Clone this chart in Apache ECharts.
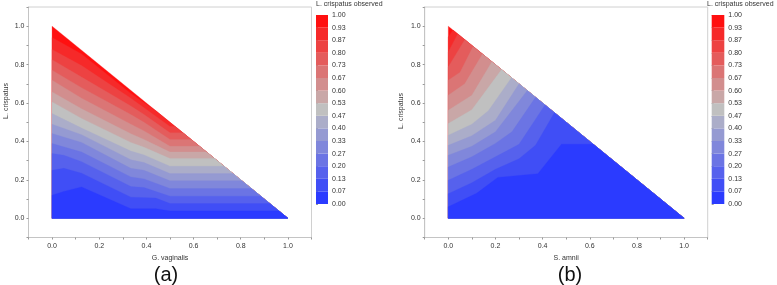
<!DOCTYPE html>
<html>
<head>
<meta charset="utf-8">
<title>L. crispatus observed</title>
<style>html,body{margin:0;padding:0;background:#fff;}</style>
</head>
<body>
<div id="main" style="width:777px;height:285px;"></div>
<script src="https://cdn.jsdelivr.net/npm/echarts@6/dist/echarts.min.js"></script>
<script>
// contour lines, level k/15 for k = 1..14 (first = lowest)
// each line runs from the left edge (x = 0) to the hypotenuse (x + y = 1)
var gvLines = [
    [[0, 0.120], [0.05, 0.140], [0.125, 0.163], [0.334, 0.050], [0.44, 0.050], [0.5, 0.038], [0.962, 0.038]],
    [[0, 0.250], [0.05, 0.260], [0.125, 0.235], [0.334, 0.110], [0.44, 0.105], [0.5, 0.077], [0.923, 0.077]],
    [[0, 0.337], [0.05, 0.328], [0.125, 0.295], [0.334, 0.165], [0.39, 0.160], [0.5, 0.115], [0.885, 0.115]],
    [[0, 0.389], [0.125, 0.345], [0.334, 0.215], [0.39, 0.205], [0.5, 0.155], [0.845, 0.155]],
    [[0, 0.441], [0.125, 0.395], [0.334, 0.260], [0.39, 0.250], [0.5, 0.195], [0.805, 0.195]],
    [[0, 0.490], [0.125, 0.435], [0.334, 0.305], [0.39, 0.290], [0.5, 0.233], [0.767, 0.233]],
    [[0, 0.545], [0.125, 0.470], [0.334, 0.350], [0.39, 0.330], [0.5, 0.271], [0.729, 0.271]],
    [[0, 0.606], [0.125, 0.520], [0.334, 0.395], [0.39, 0.370], [0.5, 0.311], [0.689, 0.311]],
    [[0, 0.658], [0.125, 0.570], [0.334, 0.440], [0.39, 0.410], [0.5, 0.345], [0.655, 0.345]],
    [[0, 0.719], [0.125, 0.625], [0.334, 0.490], [0.39, 0.455], [0.5, 0.375], [0.625, 0.375]],
    [[0, 0.771], [0.125, 0.680], [0.334, 0.540], [0.39, 0.500], [0.5, 0.410], [0.590, 0.410]],
    [[0, 0.826], [0.125, 0.735], [0.334, 0.585], [0.39, 0.540], [0.5, 0.445], [0.555, 0.445]],
    [[0, 0.879], [0.125, 0.795], [0.334, 0.625], [0.39, 0.575], [0.5, 0.478], [0.522, 0.478]],
    [[0, 0.941], [0.125, 0.855], [0.334, 0.650], [0.44, 0.560]]
];

var saLines = [
    [[0, 0.060], [0.12, 0.130], [0.21, 0.213], [0.38, 0.232], [0.48, 0.386], [0.614, 0.386]],
    [[0, 0.128], [0.1, 0.185], [0.2, 0.255], [0.3, 0.310], [0.37, 0.380], [0.45, 0.550]],
    [[0, 0.198], [0.1, 0.255], [0.2, 0.320], [0.3, 0.385], [0.41, 0.590]],
    [[0, 0.267], [0.1, 0.320], [0.2, 0.390], [0.27, 0.450], [0.37, 0.630]],
    [[0, 0.328], [0.1, 0.375], [0.2, 0.450], [0.335, 0.665]],
    [[0, 0.380], [0.1, 0.430], [0.2, 0.510], [0.30, 0.700]],
    [[0, 0.432], [0.1, 0.490], [0.17, 0.560], [0.268, 0.732]],
    [[0, 0.493], [0.1, 0.565], [0.226, 0.774]],
    [[0, 0.5625], [0.1, 0.640], [0.185, 0.815]],
    [[0, 0.641], [0.07, 0.700], [0.145, 0.855]],
    [[0, 0.719], [0.05, 0.760], [0.105, 0.895]],
    [[0, 0.788], [0.07, 0.930]],
    [[0, 0.866], [0.04, 0.960]],
    [[0, 0.944], [0.02, 0.980]]
];

var levelLabels = ['0.00', '0.07', '0.13', '0.20', '0.27', '0.33', '0.40', '0.47',
    '0.53', '0.60', '0.67', '0.73', '0.80', '0.87', '0.93', '1.00'];
var axisLabels = ['0.0', '0.2', '0.4', '0.6', '0.8', '1.0'];

// one colour per band, lowest band first
var bandColors = ['#2b3bff', '#404ef6', '#5661ed', '#6b74e4', '#8087db', '#959ad2', '#abadc9',
    '#c0c0c0', '#c9a7a7', '#d28e8e', '#db7575', '#e45c5c', '#ed4242', '#f62929', '#ff1010'];

var FONT = 'Liberation Sans';

// painter's order: whole triangle in the top colour, then the area under each line
function buildLayers(lines) {
    var layers = [{ pts: [[0, 0], [0, 1], [1, 0]], color: bandColors[bandColors.length - 1] }];
    for (var k = lines.length - 1; k >= 0; k--) {
        layers.push({ pts: lines[k].concat([[1, 0], [0, 0]]), color: bandColors[k] });
    }
    return layers;
}

function contourSeries(lines, idx) {
    var layers = buildLayers(lines);
    return {
        type: 'custom',
        xAxisIndex: idx, yAxisIndex: idx,
        silent: true,
        data: layers.map(function (l, i) { return [0, 0, i]; }),
        renderItem: function (params, api) {
            var layer = layers[params.dataIndex];
            return {
                type: 'polygon',
                shape: { points: layer.pts.map(function (p) { return api.coord(p); }) },
                style: { fill: layer.color, stroke: layer.color, lineWidth: 0.3 }
            };
        }
    };
}

function legendSeries(idx) {
    return {
        type: 'custom',
        xAxisIndex: idx, yAxisIndex: idx,
        silent: true,
        data: bandColors.map(function (c, i) { return [0, i]; }),
        renderItem: function (params, api) {
            var k = params.dataIndex;
            var p0 = api.coord([0, k]);
            var p1 = api.coord([1, k + 1]);
            return {
                type: 'rect',
                shape: { x: p0[0], y: p1[1], width: p1[0] - p0[0], height: p0[1] - p1[1] },
                style: { fill: bandColors[k] }
            };
        }
    };
}

function tickLabel(v) {
    if (Math.abs(v) < 1e-9) v = 0;
    var s = v.toFixed(1);
    return axisLabels.indexOf(s) >= 0 ? s : '';
}

function mainX(idx, name) {
    return {
        type: 'value', gridIndex: idx, min: -0.1, max: 1.1, interval: 0.1,
        name: name, nameLocation: 'middle', nameGap: 17,
        nameTextStyle: { fontFamily: FONT, fontSize: 7, color: '#333' },
        axisLine: { show: true, onZero: false, lineStyle: { color: '#c4c4c4' } },
        axisTick: { show: true, length: 2, lineStyle: { color: '#999' } },
        axisLabel: { formatter: tickLabel, fontFamily: FONT, fontSize: 7, color: '#333', margin: 5 },
        splitLine: { show: false }
    };
}

function mainY(idx) {
    return {
        type: 'value', gridIndex: idx, min: -0.1, max: 1.1, interval: 0.1,
        axisLine: { show: true, onZero: false, lineStyle: { color: '#c4c4c4' } },
        axisTick: { show: true, length: 2, lineStyle: { color: '#999' } },
        axisLabel: { formatter: tickLabel, fontFamily: FONT, fontSize: 7, color: '#333', margin: 4 },
        splitLine: { show: false }
    };
}

function legendX(idx) {
    return { type: 'value', gridIndex: idx, min: 0, max: 1, show: false };
}

function legendY(idx) {
    return {
        type: 'value', gridIndex: idx, min: 0, max: 15, interval: 1, position: 'right',
        axisLine: { show: false },
        axisTick: { show: true, length: 2, lineStyle: { color: '#999' } },
        axisLabel: {
            formatter: function (v) { return levelLabels[Math.round(v)]; },
            fontFamily: FONT, fontSize: 7, color: '#333', margin: 4
        },
        splitLine: { show: false }
    };
}

var myChart = echarts.init(document.getElementById('main'));

var option = {
    backgroundColor: '#fff',
    animation: false,
    grid: [
        { left: 28.5, top: 7, width: 283, height: 230.5, show: true, borderColor: '#d0d0d0', borderWidth: 1 },
        { left: 424.7, top: 7, width: 283, height: 230.5, show: true, borderColor: '#d0d0d0', borderWidth: 1 },
        { left: 316, top: 15, width: 12, height: 189 },
        { left: 711.7, top: 15, width: 12.6, height: 189 }
    ],
    xAxis: [mainX(0, 'G. vaginalis'), mainX(1, 'S. amnii'), legendX(2), legendX(3)],
    yAxis: [mainY(0), mainY(1), legendY(2), legendY(3)],
    series: [contourSeries(gvLines, 0), contourSeries(saLines, 1), legendSeries(2), legendSeries(3)],
    graphic: [
        { type: 'text', x: 6, y: 101, rotation: Math.PI / 2,
          style: { text: 'L. crispatus', fontFamily: FONT, fontSize: 7, fill: '#333', align: 'center', verticalAlign: 'middle' } },
        { type: 'text', x: 401, y: 111, rotation: Math.PI / 2,
          style: { text: 'L. crispatus', fontFamily: FONT, fontSize: 7, fill: '#333', align: 'center', verticalAlign: 'middle' } },
        { type: 'text', x: 316, y: 4,
          style: { text: 'L. crispatus observed', fontFamily: FONT, fontSize: 7, fill: '#333', verticalAlign: 'middle' } },
        { type: 'text', x: 707, y: 4,
          style: { text: 'L. crispatus observed', fontFamily: FONT, fontSize: 7, fill: '#333', verticalAlign: 'middle' } },
        { type: 'text', x: 166, y: 275,
          style: { text: '(a)', fontFamily: FONT, fontSize: 20, fill: '#111', align: 'center', verticalAlign: 'middle' } },
        { type: 'text', x: 570, y: 275,
          style: { text: '(b)', fontFamily: FONT, fontSize: 20, fill: '#111', align: 'center', verticalAlign: 'middle' } }
    ]
};

myChart.setOption(option);
window.addEventListener('resize', function () {
    myChart.resize();
});
</script>
</body>
</html>
